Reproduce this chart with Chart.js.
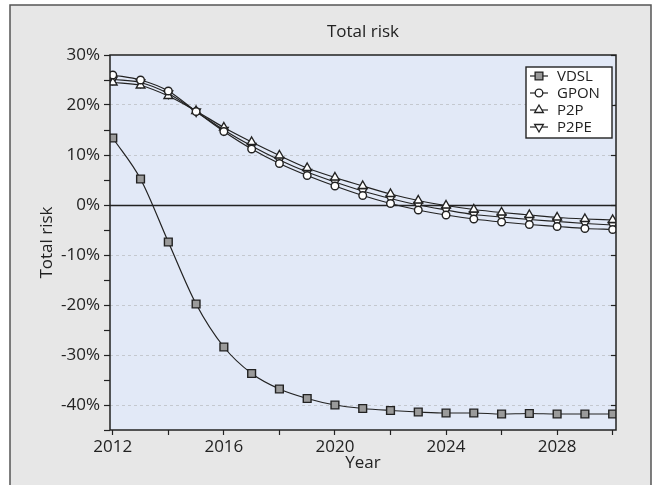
<!DOCTYPE html>
<html>
<head>
<meta charset="utf-8">
<script src="https://cdn.jsdelivr.net/npm/chart.js@4.4.1/dist/chart.umd.min.js"></script>
<style>
    html, body { margin: 0; padding: 0; background: #fff; }
    #wrap { width: 658px; height: 485px; }
</style>
</head>
<body>
<div id="wrap"><canvas id="riskChart" width="658" height="485"></canvas></div>
<script>
// Chart data (percent)
var years = [2012, 2013, 2014, 2015, 2016, 2017, 2018, 2019, 2020, 2021,
             2022, 2023, 2024, 2025, 2026, 2027, 2028, 2029, 2030];
var vdsl = [13.4, 5.2, -7.4, -19.8, -28.4, -33.7, -36.8, -38.7, -40.0, -40.7,
            -41.1, -41.4, -41.6, -41.6, -41.8, -41.7, -41.8, -41.8, -41.8];
var gpon = [26.0, 25.0, 22.8, 18.7, 14.7, 11.2, 8.3, 5.9, 3.8, 1.9,
            0.3, -1.0, -2.0, -2.8, -3.4, -3.9, -4.3, -4.7, -4.9];
var p2p = [24.5, 23.9, 21.8, 18.8, 15.5, 12.6, 9.9, 7.4, 5.5, 3.8,
           2.2, 0.9, -0.1, -0.9, -1.5, -2.0, -2.5, -2.8, -3.0];
var p2pe = [25.1, 24.5, 22.3, 18.7, 15.0, 11.8, 9.0, 6.6, 4.6, 2.8,
            1.3, 0.0, -1.0, -1.9, -2.4, -2.9, -3.3, -3.7, -4.0];
var seriesNames = ['VDSL', 'GPON', 'P2P', 'P2PE'];
var xLabelYears = [2012, 2016, 2020, 2024, 2028];
var yMin = -45, yMax = 30;

var FONT = "'Open Sans', sans-serif";
var INK = '#222';

function toPoints(values) {
    return values.map(function (v, i) { return { x: years[i], y: v }; });
}

function makeSeries(label, values, style, rotation, radius, fill) {
    return {
        label: label,
        data: toPoints(values),
        borderColor: INK,
        borderWidth: 1.2,
        cubicInterpolationMode: 'monotone',
        pointStyle: style,
        rotation: rotation,
        pointRadius: radius,
        pointHoverRadius: radius,
        pointBackgroundColor: fill,
        pointBorderColor: INK,
        pointBorderWidth: 1.4
    };
}

// Frame, plot background, zero line, title and legend
var decorations = {
    id: 'decorations',
    beforeDraw: function (chart) {
        var ctx = chart.ctx, a = chart.chartArea;
        ctx.save();
        ctx.fillStyle = '#e7e7e7';
        ctx.fillRect(10, 5, 641, 490);
        ctx.strokeStyle = '#555';
        ctx.lineWidth = 1.5;
        ctx.strokeRect(10, 5, 641, 490);
        ctx.fillStyle = '#e2e9f7';
        ctx.fillRect(a.left, a.top, a.right - a.left, a.bottom - a.top);
        ctx.restore();
    },
    beforeDatasetsDraw: function (chart) {
        var ctx = chart.ctx, a = chart.chartArea, y = chart.scales.y;
        ctx.save();
        ctx.strokeStyle = INK;
        ctx.lineWidth = 1.4;
        var y0 = Math.round(y.getPixelForValue(0)) + 0.5;
        ctx.beginPath();
        ctx.moveTo(a.left, y0);
        ctx.lineTo(a.right, y0);
        ctx.stroke();
        // inward ticks on the right edge
        ctx.lineWidth = 1.2;
        y.ticks.forEach(function (t) {
            if (t.value % 10 !== 0) return;
            var py = Math.round(y.getPixelForValue(t.value)) + 0.5;
            ctx.beginPath();
            ctx.moveTo(a.right - 5, py);
            ctx.lineTo(a.right, py);
            ctx.stroke();
        });
        ctx.restore();
    },
    afterDraw: function (chart) {
        var ctx = chart.ctx, a = chart.chartArea;
        ctx.save();
        ctx.strokeStyle = INK;
        ctx.lineWidth = 1.5;
        ctx.strokeRect(a.left, a.top, a.right - a.left, a.bottom - a.top);

        // title
        ctx.fillStyle = INK;
        ctx.font = '17px ' + FONT;
        ctx.textAlign = 'center';
        ctx.textBaseline = 'middle';
        ctx.fillText('Total risk', (a.left + a.right) / 2, 32);

        // legend box
        var lx = 526, ly = 67, lw = 86, lh = 71;
        ctx.fillStyle = '#fff';
        ctx.fillRect(lx, ly, lw, lh);
        ctx.lineWidth = 1.4;
        ctx.strokeRect(lx, ly, lw, lh);
        ctx.font = '15px ' + FONT;
        ctx.textAlign = 'left';
        chart.data.datasets.forEach(function (ds, i) {
            var cy = ly + 9 + i * 17;
            ctx.strokeStyle = INK;
            ctx.lineWidth = 1.2;
            ctx.beginPath();
            ctx.moveTo(lx + 4, cy);
            ctx.lineTo(lx + 22, cy);
            ctx.stroke();
            ctx.fillStyle = ds.pointBackgroundColor;
            ctx.strokeStyle = INK;
            ctx.lineWidth = 1.3;
            Chart.helpers.drawPoint(ctx, {
                pointStyle: ds.pointStyle,
                rotation: ds.rotation,
                radius: ds.pointRadius,
                borderWidth: 1.3
            }, lx + 13, cy);
            ctx.fillStyle = INK;
            ctx.fillText(ds.label, lx + 31, cy + 1);
        });
        ctx.restore();
    }
};

new Chart(document.getElementById('riskChart'), {
    type: 'line',
    data: {
        datasets: [
            makeSeries(seriesNames[0], vdsl, 'rect', 0, 5.5, '#9a9a9a'),
            makeSeries(seriesNames[1], gpon, 'circle', 0, 3.8, '#fff'),
            makeSeries(seriesNames[2], p2p, 'triangle', 0, 5, '#fff'),
            makeSeries(seriesNames[3], p2pe, 'triangle', 180, 5, '#fff')
        ]
    },
    options: {
        responsive: false,
        animation: false,
        layout: { padding: { top: 55, right: 42, bottom: 0, left: 0 } },
        plugins: {
            legend: { display: false },
            tooltip: { enabled: false },
            title: { display: false }
        },
        scales: {
            x: {
                type: 'linear',
                min: 2011.9,
                max: 2030.12,
                afterFit: function (scale) { scale.height = 55; },
                grid: {
                    drawOnChartArea: false,
                    drawTicks: true,
                    tickLength: 5,
                    tickColor: INK,
                    tickWidth: 1.2
                },
                border: { display: false },
                ticks: {
                    stepSize: 2,
                    includeBounds: false,
                    maxRotation: 0,
                    autoSkip: false,
                    padding: 2,
                    color: INK,
                    font: { family: FONT, size: 17 },
                    callback: function (v) {
                        return xLabelYears.indexOf(v) >= 0 ? String(v) : '';
                    }
                },
                title: {
                    display: true,
                    text: 'Year',
                    color: INK,
                    font: { family: FONT, size: 17 },
                    padding: { top: 0, bottom: 12 }
                }
            },
            y: {
                min: yMin,
                max: yMax,
                afterFit: function (scale) { scale.width = 110; },
                grid: {
                    drawTicks: true,
                    tickLength: 6,
                    tickColor: INK,
                    tickWidth: 1.2,
                    lineWidth: 1,
                    color: function (c) {
                        var v = c.tick ? c.tick.value : 1;
                        if (v === 0 || v === yMax || v === yMin) return 'rgba(0,0,0,0)';
                        return v % 10 === 0 ? '#c4c8cf' : 'rgba(0,0,0,0)';
                    }
                },
                border: { display: false, dash: [3, 3] },
                ticks: {
                    stepSize: 5,
                    padding: 4,
                    color: INK,
                    font: { family: FONT, size: 17 },
                    callback: function (v) {
                        return v % 10 === 0 ? v + '%' : '';
                    }
                },
                title: {
                    display: true,
                    text: 'Total risk',
                    color: INK,
                    font: { family: FONT, size: 17 },
                    padding: { top: 37, bottom: 0 }
                }
            }
        }
    },
    plugins: [decorations]
});
</script>
</body>
</html>
